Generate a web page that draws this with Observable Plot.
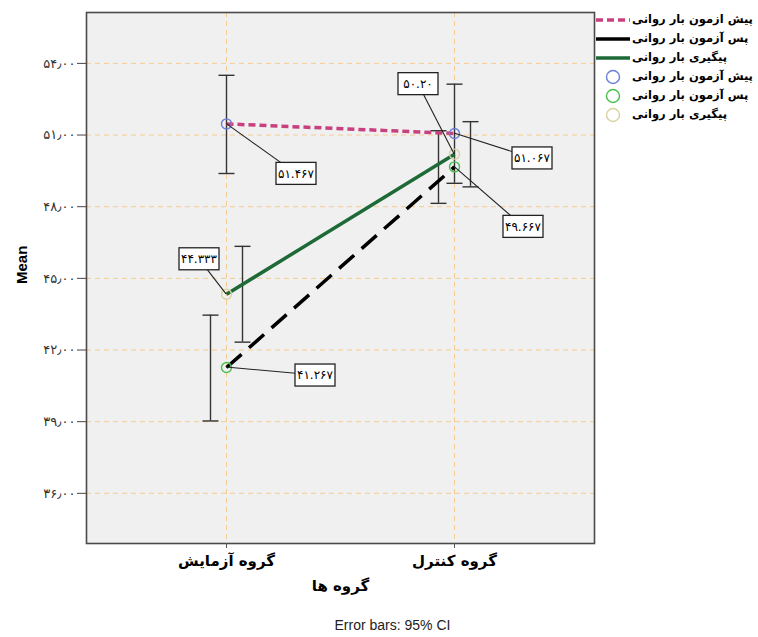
<!DOCTYPE html>
<html>
<head>
<meta charset="utf-8">
<script src="https://cdn.jsdelivr.net/npm/d3@7"></script>
<script src="https://cdn.jsdelivr.net/npm/@observablehq/plot@0.6"></script>
<style>
  html, body { margin: 0; padding: 0; background: #ffffff; }
  #chart svg { display: block; }
</style>
</head>
<body>
<div id="chart"></div>
<script>
// ---------- data ----------
const groups = ["گروه آزمایش", "گروه کنترل"];
const seriesNames = ["پیش آزمون بار روانی", "پس آزمون بار روانی", "پیگیری بار روانی"];
const legendLineNames = ["پیش ازمون بار روانی", "پس آزمون بار روانی", "پیگیری بار روانی"];
const preMeans = [51.467, 51.067];
const postMeans = [41.267, 49.667];
const followMeans = [44.333, 50.20];
const preLow = [49.39, 48.98];
const preHigh = [53.50, 53.13];
const postLow = [39.03, 48.14];
const postHigh = [43.46, 51.18];
const followLow = [42.33, 48.83];
const followHigh = [46.34, 51.56];
const preLabels = ["51.467", "51.067"];
const postLabels = ["41.267", "49.667"];
const followLabels = ["44.333", "50.20"];
const yTicks = [36, 39, 42, 45, 48, 51, 54];
const yTitle = "Mean";
const xTitle = "گروه ها";
const captionText = "Error bars: 95% CI";

// ---------- styling config ----------
const lineColors = ["#c8407e", "#000000", "#1d6a37"];
const lineDash = ["7,4", "20,10", null];
const circleColors = ["#6a7fd6", "#45c04f", "#d9d2a2"];
const barOffsets = [0, -16, 16];
// pixel offsets of label boxes from their points: [group][series]
const labelOffsets = [
  [[70, 50], [89, 8], [-27, -35]],
  [[78, 25], [69, 60], [-36, -70]]
];

const faDigits = s => String(s).replace(/\d/g, d => "۰۱۲۳۴۵۶۷۸۹"[d]);
const toFaTick = s => faDigits(s).replace(".", "٫");
const toFaLabel = s => faDigits(s);

const means = [preMeans, postMeans, followMeans];
const lows = [preLow, postLow, followLow];
const highs = [preHigh, postHigh, followHigh];
const labelStrs = [preLabels, postLabels, followLabels];

const rows = [];
seriesNames.forEach((s, si) => {
  groups.forEach((g, gi) => {
    rows.push({series: s, si, group: g, gi, mean: means[si][gi], low: lows[si][gi], high: highs[si][gi], label: labelStrs[si][gi]});
  });
});

const capSymbol = {
  draw(context, size) {
    const r = Math.sqrt(size / Math.PI);
    context.moveTo(-r, 0);
    context.lineTo(r, 0);
  }
};

const marks = [
  Plot.frame({fill: "#f0f0f0", stroke: "none"}),
  Plot.ruleY(yTicks, {stroke: "#f7cb92", strokeDasharray: "5,4", strokeWidth: 1}),
  Plot.ruleX(groups, {stroke: "#f7cb92", strokeDasharray: "5,4", strokeWidth: 1}),
  Plot.frame({stroke: "#4a4a4a", strokeWidth: 1.6}),
  Plot.axisY({ticks: yTicks, tickFormat: d => toFaTick(d.toFixed(2)), tickSize: 9, tickPadding: 2, fontSize: 13, fill: "#333", stroke: "#444", label: null, fontFamily: "DejaVu Sans"}),
  Plot.axisX({tickSize: 5, tickPadding: 7, fontSize: 15, fontWeight: "bold", fill: "#000", stroke: "#555", label: null, fontFamily: "DejaVu Sans"})
];

// error bars
seriesNames.forEach((s, si) => {
  const d = rows.filter(r => r.si === si);
  marks.push(Plot.ruleX(d, {x: "group", y1: "low", y2: "high", dx: barOffsets[si], stroke: "#333", strokeWidth: 1.4}));
  marks.push(Plot.dot(d, {x: "group", y: "low", dx: barOffsets[si], symbol: capSymbol, r: 8, stroke: "#333", strokeWidth: 1.4}));
  marks.push(Plot.dot(d, {x: "group", y: "high", dx: barOffsets[si], symbol: capSymbol, r: 8, stroke: "#333", strokeWidth: 1.4}));
});

// lines
seriesNames.forEach((s, si) => {
  const d = rows.filter(r => r.si === si);
  marks.push(Plot.line(d, {x: "group", y: "mean", stroke: lineColors[si], strokeWidth: 3.5, strokeDasharray: lineDash[si] || undefined, strokeLinecap: "butt"}));
});

// circles
seriesNames.forEach((s, si) => {
  const d = rows.filter(r => r.si === si);
  marks.push(Plot.dot(d, {x: "group", y: "mean", r: 5, stroke: circleColors[si], strokeWidth: 1.4, fill: "none"}));
});

// label boxes with leader lines
marks.push((index, scales, values, dimensions) => {
  const g = d3.create("svg:g");
  rows.forEach(r => {
    const px = scales.x(r.group), py = scales.y(r.mean);
    const [ox, oy] = labelOffsets[r.gi][r.si];
    g.append("line").attr("x1", px).attr("y1", py).attr("x2", px + ox).attr("y2", py + oy)
      .attr("stroke", "#222").attr("stroke-width", 1.1);
  });
  rows.forEach(r => {
    const px = scales.x(r.group), py = scales.y(r.mean);
    const [ox, oy] = labelOffsets[r.gi][r.si];
    const cx = px + ox, cy = py + oy;
    const w = 40, h = 22;
    g.append("rect").attr("x", cx - w / 2).attr("y", cy - h / 2).attr("width", w).attr("height", h)
      .attr("fill", "#fff").attr("stroke", "#222").attr("stroke-width", 1.3);
    g.append("text").attr("x", cx).attr("y", cy).attr("dy", "0.35em").attr("text-anchor", "middle")
      .attr("font-family", "DejaVu Sans").attr("font-size", 12).attr("fill", "#000")
      .text(toFaLabel(r.label));
  });
  return g.node();
});

// legend
marks.push((index, scales, values, dimensions) => {
  const g = d3.create("svg:g");
  const x0 = 596, xText = 632, y0 = 20, step = 19;
  const addText = (y, t) => g.append("text").attr("x", xText).attr("y", y).attr("dy", "0.3em")
      .attr("text-anchor", "start").attr("direction", "ltr")
      .attr("font-family", "DejaVu Sans").attr("font-size", 11.5).attr("font-weight", "bold").attr("fill", "#000").text(t);
  seriesNames.forEach((s, i) => {
    const y = y0 + i * step;
    g.append("line").attr("x1", x0).attr("x2", 630).attr("y1", y).attr("y2", y)
      .attr("stroke", lineColors[i]).attr("stroke-width", 3.5)
      .attr("stroke-dasharray", i === 0 ? "7,4" : null);
    addText(y, legendLineNames[i]);
  });
  seriesNames.forEach((s, i) => {
    const y = y0 + (i + 3) * step;
    g.append("circle").attr("cx", 613).attr("cy", y).attr("r", 6.5)
      .attr("fill", "none").attr("stroke", circleColors[i]).attr("stroke-width", 1.4);
    addText(y, s);
  });
  return g.node();
});

// titles
marks.push(Plot.text([yTitle], {frameAnchor: "left", dx: -64, dy: 6, rotate: -90, fontWeight: "bold", fontSize: 15, fontFamily: "Liberation Sans", fill: "#000"}));
marks.push(Plot.text([xTitle], {frameAnchor: "bottom", dy: 47, fontWeight: "bold", fontSize: 15, fontFamily: "DejaVu Sans", fill: "#000"}));
marks.push(Plot.text([captionText], {frameAnchor: "bottom", dx: 52, dy: 86, fontSize: 14, fontFamily: "Liberation Sans", fill: "#222"}));

const chart = Plot.plot({
  width: 758,
  height: 637,
  marginLeft: 86,
  marginRight: 164,
  marginTop: 12,
  marginBottom: 94,
  x: {type: "point", domain: groups, padding: 0.611, axis: null},
  y: {domain: [33.9, 56.13], axis: null},
  style: {background: "#ffffff", fontFamily: "DejaVu Sans", overflow: "visible"},
  marks
});
document.getElementById("chart").appendChild(chart);
</script>
</body>
</html>
